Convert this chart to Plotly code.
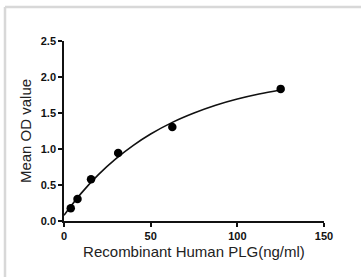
import plotly.graph_objects as go

# Measured standard points
conc = [3.9, 7.8, 15.6, 31.25, 62.5, 125]
od = [0.177, 0.307, 0.58, 0.943, 1.306, 1.835]

# Fitted curve
curve_x = [0, 10, 20, 30, 40, 50, 62.5, 75, 87.5, 100, 112.5, 125]
curve_y = [0.08, 0.387, 0.647, 0.866, 1.051, 1.208, 1.37, 1.50, 1.608, 1.694, 1.764, 1.82]

x_ticks = [0, 50, 100, 150]
y_ticks = [0.0, 0.5, 1.0, 1.5, 2.0, 2.5]
y_tick_text = ["0.0", "0.5", "1.0", "1.5", "2.0", "2.5"]

W, H = 361, 277

fig = go.Figure()
fig.add_trace(go.Scatter(x=curve_x, y=curve_y, mode="lines",
                         line=dict(color="#111111", width=1.6, shape="spline"),
                         hoverinfo="skip", showlegend=False))
fig.add_trace(go.Scatter(x=conc, y=od, mode="markers",
                         marker=dict(color="#000000", size=8.5),
                         showlegend=False))

tickfont = dict(family="Liberation Sans, Arial, sans-serif", size=11, color="#111111", weight="bold")
titlefont = dict(family="Liberation Sans, Arial, sans-serif", size=15, color="#222222")

fig.update_xaxes(range=[0, 150], tickvals=x_ticks, ticks="outside", ticklen=4,
                 tickwidth=1.5, tickcolor="#111111", showline=True, linecolor="#111111",
                 linewidth=1.5, showgrid=False, zeroline=False, tickfont=tickfont,
                 automargin=False, domain=[64 / W, 324 / W],
                 title=dict(text="Recombinant Human PLG(ng/ml)", font=titlefont, standoff=6))
fig.update_yaxes(range=[0, 2.5], tickvals=y_ticks, ticktext=y_tick_text, ticks="outside",
                 ticklen=4, tickwidth=1.5, tickcolor="#111111", showline=True,
                 linecolor="#111111", linewidth=1.5, showgrid=False, zeroline=False,
                 tickfont=tickfont, automargin=False, domain=[1 - 221 / H, 1 - 41 / H],
                 title=dict(text="Mean OD value", font=titlefont, standoff=6))

fig.update_layout(
    width=W, height=H,
    margin=dict(l=0, r=0, t=0, b=0, pad=0),
    paper_bgcolor="white", plot_bgcolor="white",
    shapes=[
        dict(type="line", xref="paper", yref="paper", x0=5 / W, x1=5 / W, y0=0, y1=1 - 7 / H,
             line=dict(color="#d8d8d8", width=2.5)),
        dict(type="line", xref="paper", yref="paper", x0=5 / W, x1=1, y0=1 - 7 / H, y1=1 - 7 / H,
             line=dict(color="#d8d8d8", width=2.5)),
    ],
)

fig.write_html("out.html", config={"displayModeBar": False},
               post_script=["document.body.style.margin='0';document.body.style.overflow='hidden';"])
